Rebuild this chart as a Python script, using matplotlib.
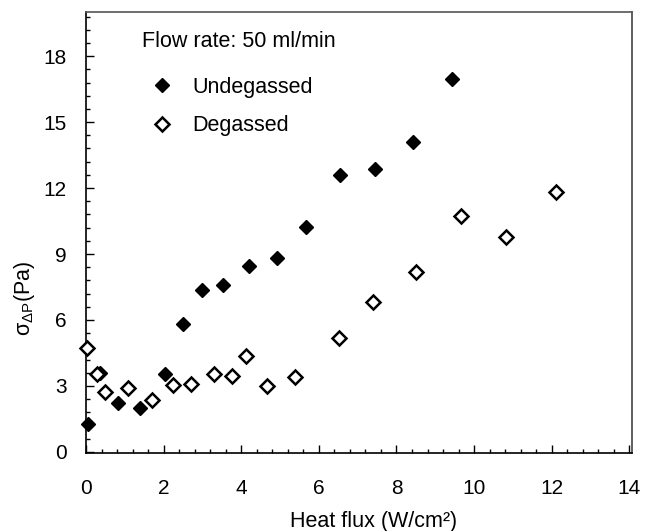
import matplotlib
matplotlib.use("Agg")
import matplotlib.pyplot as plt
from matplotlib.ticker import MultipleLocator

plt.rcParams['font.family'] = ['Liberation Sans', 'DejaVu Sans']

undeg_x = [0.05, 0.35, 0.83, 1.38, 2.04, 2.49, 2.99, 3.53, 4.20, 4.91, 5.67, 6.54, 7.45, 8.42, 9.44]
undeg_y = [1.25, 3.59, 2.22, 1.99, 3.52, 5.81, 7.37, 7.57, 8.44, 8.84, 10.24, 12.61, 12.89, 14.11, 16.94]

deg_x = [0.03, 0.28, 0.48, 1.08, 1.69, 2.25, 2.70, 3.29, 3.77, 4.11, 4.66, 5.39, 6.51, 7.40, 8.50, 9.66, 10.83, 12.10]
deg_y = [4.74, 3.52, 2.71, 2.91, 2.34, 3.06, 3.09, 3.52, 3.44, 4.36, 3.00, 3.41, 5.20, 6.83, 8.18, 10.75, 9.79, 11.82]

x_ticks = [0, 2, 4, 6, 8, 10, 12, 14]
y_ticks = [0, 3, 6, 9, 12, 15, 18]

fig = plt.figure(figsize=(6.45, 5.31), dpi=100)
ax = fig.add_axes([0.1333, 0.147, 0.8467, 0.830])

ax.plot(undeg_x, undeg_y, linestyle='none', marker='D', markersize=7.6,
        markerfacecolor='black', markeredgecolor='black', markeredgewidth=1.0,
        label='Undegassed', clip_on=False, zorder=3)
ax.plot(deg_x, deg_y, linestyle='none', marker='D', markersize=6.8,
        markerfacecolor='white', markeredgecolor='black', markeredgewidth=1.8,
        label='Degassed', clip_on=False, zorder=3)

ax.set_xlim(0, 14.07)
ax.set_ylim(-0.05, 20.0)
ax.set_xticks(x_ticks)
ax.set_yticks(y_ticks)
ax.xaxis.set_minor_locator(MultipleLocator(0.4))
ax.yaxis.set_minor_locator(MultipleLocator(0.6))
ax.tick_params(axis='both', which='both', direction='in', top=False, right=False,
               labelsize=15, width=1.0)
ax.tick_params(axis='x', which='major', length=6, pad=19)
ax.tick_params(axis='y', which='major', length=6, pad=14)
ax.tick_params(axis='both', which='minor', length=3)
for s in ax.spines.values():
    s.set_linewidth(1.2)
ax.spines['top'].set_color('#555555')
ax.spines['right'].set_color('#444444')

ax.set_xlabel('Heat flux (W/cm²)', fontsize=15.5)
ax.xaxis.set_label_coords(0.526, -0.132)
ax.set_ylabel(r'$\mathregular{\sigma_{\Delta P}}$(Pa)', fontsize=15.5)
ax.yaxis.set_label_coords(-0.09, 0.35)

ax.text(0.102, (453 - 47.3) / 441, 'Flow rate: 50 ml/min', transform=ax.transAxes,
        fontsize=15.5, ha='left', va='baseline')
leg = ax.legend(loc='upper left', bbox_to_anchor=(0.12, 0.853), frameon=False,
                fontsize=15.5, handletextpad=0.9, labelspacing=0.8,
                borderaxespad=0, borderpad=0, handlelength=1.0)

fig.savefig('out.png', dpi=100)
